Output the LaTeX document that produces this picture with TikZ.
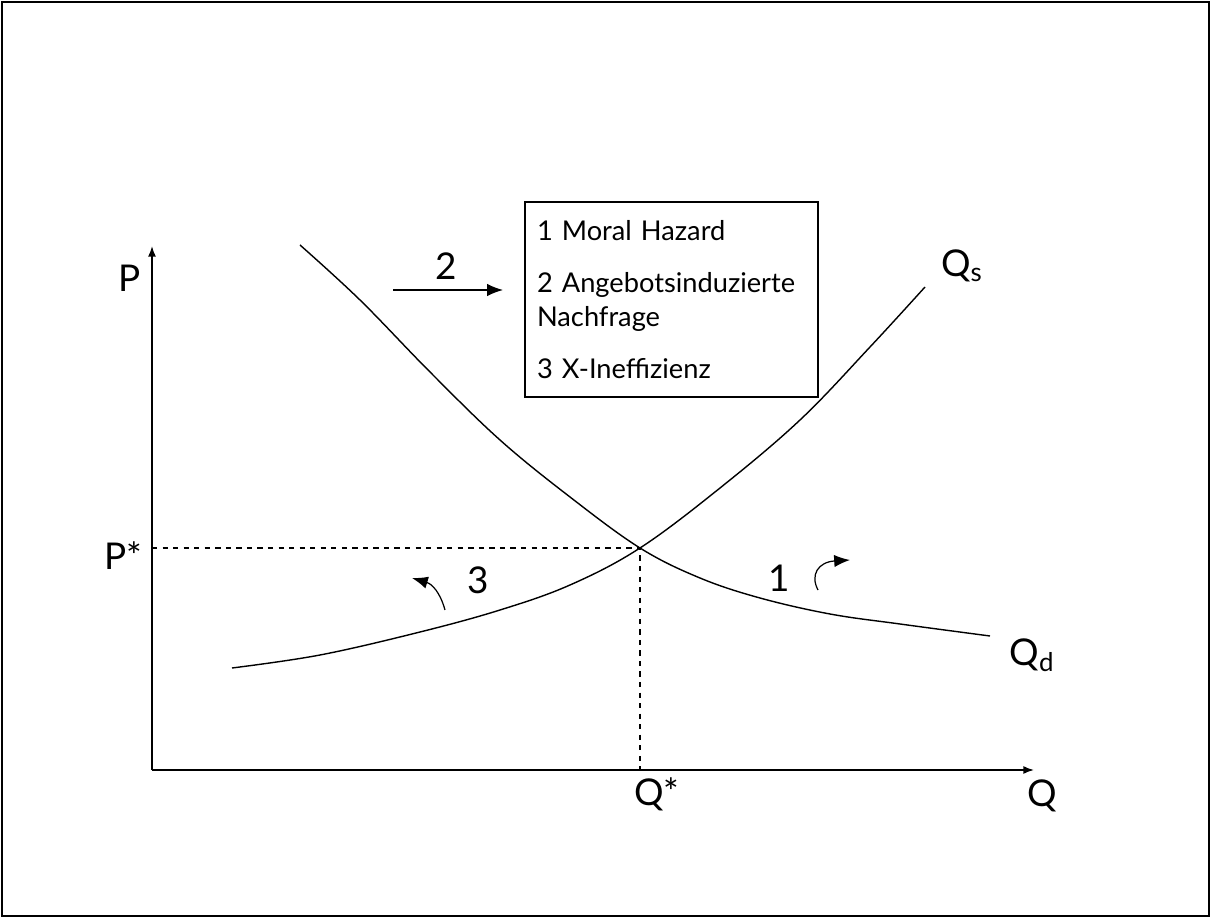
\documentclass[tikz,border=0pt]{standalone}
\usepackage{fontspec}
\setmainfont{Lato}
\usetikzlibrary{arrows.meta}

\begin{document}
\begin{tikzpicture}[x=0.02cm, y=-0.02cm,
  axis/.style={line width=0.9pt, -{Latex[length=6pt,width=4.5pt]}},
  curve/.style={line width=0.8pt},
  guide/.style={dashed, line width=0.6pt},
  shiftarrow/.style={line width=0.7pt, -{Latex[length=9pt,width=7pt]}},
  biglabel/.style={font=\fontsize{21}{24}\selectfont, inner sep=0pt},
  legendbox/.style={draw, line width=0.8pt, minimum width=5.86cm, minimum height=3.9cm,
    inner xsep=0.24cm, text width=5.38cm, align=left, font=\fontsize{15.5}{19}\selectfont}]
  \useasboundingbox (0,0) rectangle (1211,918);
  \draw[line width=1.2pt] (2,2) rectangle (1209,916);

  % axes
  \coordinate (origin) at (152,770);
  \coordinate (ytop) at (152,246);
  \coordinate (xend) at (1034,770);
  \draw[axis] (origin) -- (ytop);
  \draw[axis] (origin) -- (xend);
  \node[biglabel] (plabel) at (130,278) {P};
  \node[biglabel] (qlabel) at (1042,796) {Q};

  % equilibrium
  \coordinate (eq) at (640,548);
  \coordinate (peq) at (152,548);
  \coordinate (qeq) at (640,770);
  \draw[guide] (peq) -- (eq) -- (qeq);
  \node[biglabel] (pstar) at (123,556) {P*};
  \node[biglabel] (qstar) at (657,794) {Q*};

  % demand and supply
  \draw[curve] plot[smooth, tension=0.6] coordinates {(300,245) (360,300) (430,372) (500,440)
    (570,497) (eq) (700,578) (760,598) (830,614) (900,624) (990,636)};
  \draw[curve] plot[smooth, tension=0.6] coordinates {(232,668) (320,655) (420,632) (500,610)
    (570,585) (eq) (720,488) (800,420) (870,347) (925,287)};
  \node[biglabel] (qs) at (962,266) {Q\textsubscript{s}};
  \node[biglabel] (qd) at (1032,655) {Q\textsubscript{d}};

  % legend
  \node[legendbox] (legend) at (671.5,299.5) {1 Moral Hazard\\[11pt]
    2 Angebotsinduzierte\\Nachfrage\\[11pt]
    3 X-Ineffizienz};

  % shifts
  \coordinate (tail2) at (393,290);
  \coordinate (head2) at (503,290);
  \draw[shiftarrow] (tail2) -- (head2);
  \node[biglabel] (two) at (446,266) {2};

  \coordinate (tail3) at (445,610);
  \coordinate (head3) at (412,578);
  \draw[shiftarrow] (tail3) .. controls (440,592) and (432,584) .. (head3);
  \node[biglabel] (three) at (478,580) {3};

  \coordinate (tail1) at (818,590);
  \coordinate (head1) at (850,560);
  \draw[shiftarrow] (tail1) .. controls (810,575) and (818,562) .. (head1);
  \node[biglabel] (one) at (779,578) {1};
\end{tikzpicture}
\end{document}
